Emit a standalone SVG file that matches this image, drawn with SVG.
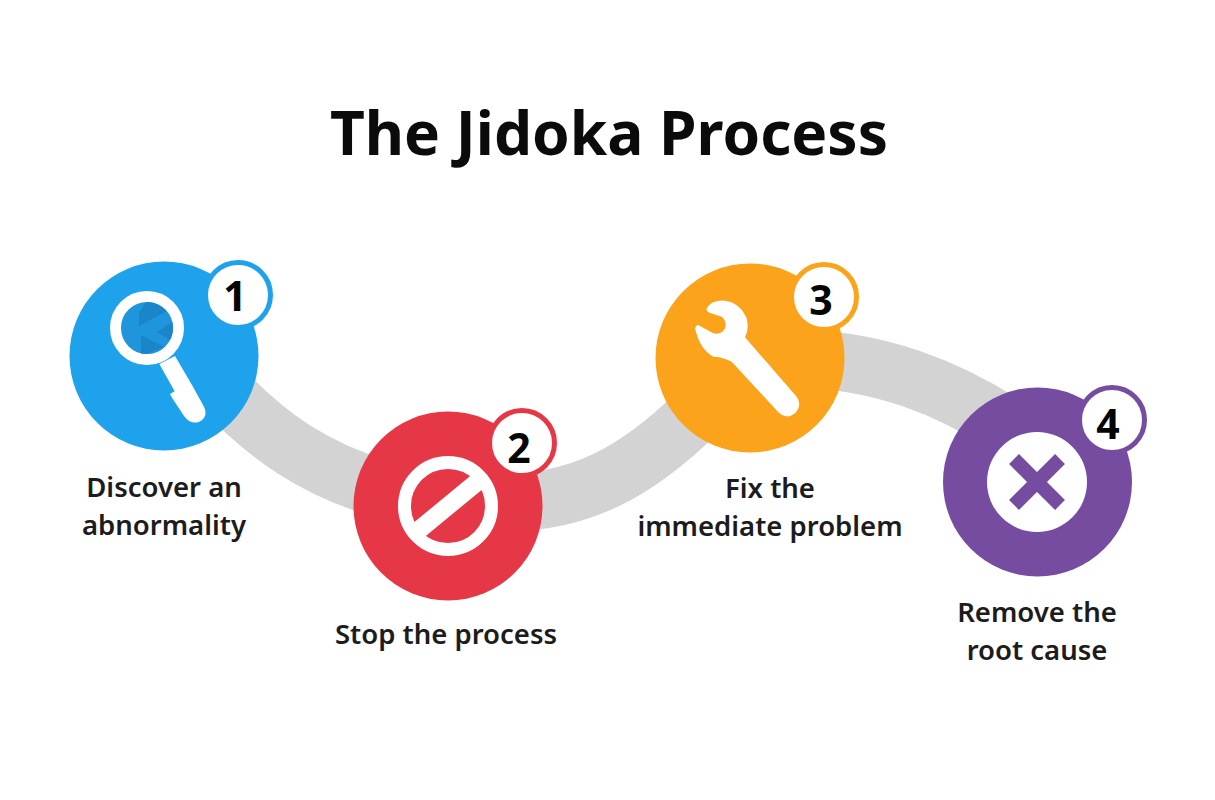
<svg xmlns="http://www.w3.org/2000/svg" width="1215" height="800" viewBox="0 0 1215 800">
<style>
.title{font:700 60.4px "Noto Sans","Open Sans",sans-serif;fill:#0b0b0b;text-anchor:middle}
.label{font:600 27.5px "Noto Sans","Open Sans",sans-serif;fill:#1c1c1c;text-anchor:middle}
.num{font:700 41px "Noto Sans","Open Sans",sans-serif;fill:#050505;text-anchor:middle}
.band{fill:none;stroke:#d3d3d3;stroke-width:58}
.badge{fill:#fff;stroke-width:5}
.w{fill:#fff}
</style>
<defs><clipPath id="lens"><circle cx="147" cy="328" r="26"/></clipPath></defs>
<rect width="1215" height="800" fill="#fff"/>
<text class="title" x="609" y="155">The Jidoka Process</text>
<g id="connectors">
<path class="band" d="M222,388 C265,435 315,470 385,490"/>
<path class="band" d="M510,502 C590,502 650,462 710,400"/>
<path class="band" d="M800,358 C880,362 945,385 1010,428"/>
</g>
<g id="node1">
<circle cx="164" cy="356" r="94.500" fill="#1fa2ec"/>
<circle cx="147" cy="328" r="31.500" fill="#1f96dc" stroke="#fff" stroke-width="11"/>
<g clip-path="url(#lens)" fill="#1a85c8">
<path d="M139,313 L139,326 L167,311 L150,296 Z"/>
<path d="M157,332 L178,318 L178,345 Z"/>
<path d="M141,335 L164,347 L141,356 Z"/>
</g>
<path class="w" transform="translate(60 250) scale(.3333)" d="M298,342 L345,318 L396,405 L432,470 Q446,500 418,515 Q392,525 372,498 L337,445 L330,432 L344,424 Z"/>
<circle class="badge" cx="238" cy="295" r="32.500" stroke="#1fa2ec"/>
<text class="num" x="235" y="311">1</text>
<text class="label" x="164" y="497">Discover an</text>
<text class="label" x="164" y="535">abnormality</text>
</g>
<g id="node2">
<circle cx="448" cy="506" r="94.500" fill="#e63746"/>
<circle cx="448" cy="506" r="43.500" fill="none" stroke="#fff" stroke-width="13"/>
<path d="M414,534 L482,478" stroke="#fff" stroke-width="18"/>
<circle class="badge" cx="522" cy="443" r="32.500" stroke="#e63746"/>
<text class="num" x="519" y="463">2</text>
<text class="label" x="446" y="644">Stop the process</text>
</g>
<g id="node3">
<circle cx="750" cy="358" r="94.500" fill="#fba31a"/>
<path class="w" transform="translate(650 250) scale(.3333)" d="M172,172 Q185,150 225,152 Q270,158 290,205 Q298,240 285,262 L440,440 Q458,465 435,490 Q410,510 385,487 L245,335 Q215,320 190,320 Q150,300 135,235 Q140,220 150,228 L190,250 Q215,255 225,235 Q232,215 215,200 L178,188 Q165,182 172,172 Z"/>
<circle class="badge" cx="824" cy="297" r="32.500" stroke="#fba31a"/>
<text class="num" x="821" y="315">3</text>
<text class="label" x="770" y="498">Fix the</text>
<text class="label" x="770" y="536">immediate problem</text>
</g>
<g id="node4">
<circle cx="1037.500" cy="482" r="94.500" fill="#754c9f"/>
<circle class="w" cx="1037" cy="482" r="50"/>
<path d="M1014,459 L1060,505 M1060,459 L1014,505" stroke="#754c9f" stroke-width="14" fill="none"/>
<circle class="badge" cx="1112" cy="420" r="32.500" stroke="#754c9f"/>
<text class="num" x="1108" y="439">4</text>
<text class="label" x="1037" y="622">Remove the</text>
<text class="label" x="1037" y="660">root cause</text>
</g>
</svg>
